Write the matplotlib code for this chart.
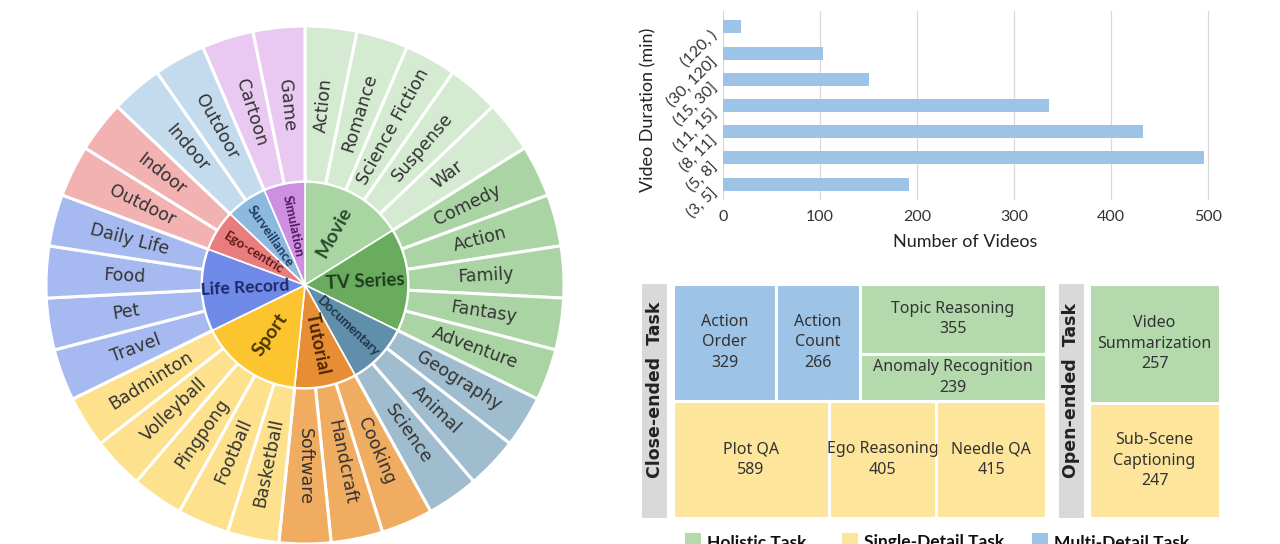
import numpy as np
import matplotlib
matplotlib.use("Agg")
import matplotlib.pyplot as plt
import matplotlib.transforms as mtransforms
from matplotlib.patches import Rectangle

# ---------------- data ----------------
categories = ['Movie', 'TV Series', 'Documentary', 'Tutorial', 'Sport',
              'Life Record', 'Ego-centric', 'Surveillance', 'Simulation']
subcategories = [
    ['Action', 'Romance', 'Science Fiction', 'Suspense', 'War'],
    ['Comedy', 'Action', 'Family', 'Fantasy', 'Adventure'],
    ['Geography', 'Animal', 'Science'],
    ['Cooking', 'Handcraft', 'Software'],
    ['Basketball', 'Football', 'Pingpong', 'Volleyball', 'Badminton'],
    ['Travel', 'Pet', 'Food', 'Daily Life'],
    ['Outdoor', 'Indoor'],
    ['Indoor', 'Outdoor'],
    ['Cartoon', 'Game'],
]

duration_bins = ['(3, 5]', '(5, 8]', '(8, 11]', '(11, 15]', '(15, 30]', '(30, 120]', '(120, )']
video_counts = [192, 496, 433, 336, 151, 103, 19]

close_top_names = ['Action\nOrder', 'Action\nCount']
close_top_values = [329, 266]
close_top_types = ['multi', 'multi']
close_stack_names = ['Topic Reasoning', 'Anomaly Recognition']
close_stack_values = [355, 239]
close_stack_types = ['holistic', 'holistic']
close_bottom_names = ['Plot QA', 'Ego Reasoning', 'Needle QA']
close_bottom_values = [589, 405, 415]
close_bottom_types = ['single', 'single', 'single']
open_names = ['Video\nSummarization', 'Sub-Scene\nCaptioning']
open_values = [257, 247]
open_types = ['holistic', 'single']
legend_labels = ['Holistic Task', 'Single-Detail Task', 'Multi-Detail Task']

# ---------------- styles ----------------
inner_colors = ['#a9d5a3', '#69ac5d', '#618eaa', '#e78d33', '#fcc52f',
                '#6f8ae9', '#e97c7c', '#8db9de', '#cf8fe0']
outer_colors = ['#d4ead1', '#aad4a4', '#a0bdcf', '#f0ad62', '#fde18d',
                '#a6b9f0', '#f3b2b2', '#c4dbee', '#e9c9f2']
inner_text_colors = ['#2d4a2d', '#1f3b1f', '#1d364a', '#4a2606', '#4a3600',
                     '#1a2866', '#5e1a1a', '#1d3a5e', '#4e1a5e']
inner_font_sizes = [14, 13.5, 9.5, 13, 14, 12.5, 9.5, 9.5, 9.5]
task_colors = {'holistic': '#b3d9ac', 'single': '#fde59b', 'multi': '#9dc3e6'}
gray_bar = '#d9d9d9'

plt.rcParams['font.family'] = ['DejaVu Sans']
fig = plt.figure(figsize=(12.8, 5.44), dpi=100)
fig.patch.set_facecolor('white')
W, H = 1280.0, 544.0

# ---------------- sunburst ----------------
cx, cy, R = 305.0, 285.0, 259.0
r_in = 103.0 / R
ax = fig.add_axes([(cx - R) / W, (H - cy - R) / H, 2 * R / W, 2 * R / H])
n_sub = [len(s) for s in subcategories]
total = sum(n_sub)
outer_cols = [outer_colors[i] for i, n in enumerate(n_sub) for _ in range(n)]
ax.pie(np.ones(total), radius=1.0, startangle=90, counterclock=False,
       colors=outer_cols, wedgeprops=dict(width=1 - r_in, edgecolor='white', linewidth=2.2))
ax.pie(n_sub, radius=r_in, startangle=90, counterclock=False,
       colors=inner_colors, wedgeprops=dict(edgecolor='white', linewidth=1.2))
ax.set_xlim(-1, 1)
ax.set_ylim(-1, 1)
ax.set_aspect('equal')
ax.axis('off')


def radial_rot(theta):
    t = theta % 360
    if 90 < t < 269.99:
        return t - 180
    return t


labels_flat = [s for grp in subcategories for s in grp]
step = 360.0 / total
r_mid = (r_in + 1) / 2
for i, lab in enumerate(labels_flat):
    cw = (i + 0.5) * step
    th = 90 - cw
    x, y = r_mid * np.cos(np.radians(th)), r_mid * np.sin(np.radians(th))
    ax.text(x, y, lab, rotation=radial_rot(th), rotation_mode='anchor',
            ha='center', va='center', fontsize=12.5, color='#333333')

start = 0
for i, (cat, n) in enumerate(zip(categories, n_sub)):
    cw = (start + n / 2) * step
    start += n
    th = 90 - cw
    rr = 60.0 / R
    x, y = rr * np.cos(np.radians(th)), rr * np.sin(np.radians(th))
    ax.text(x, y, cat, rotation=radial_rot(th), rotation_mode='anchor',
            ha='center', va='center', family=['Lato', 'DejaVu Sans'], fontweight='bold',
            fontsize=inner_font_sizes[i], color=inner_text_colors[i])

# ---------------- bar chart ----------------
px_per_unit = 0.97
x0_px = 723.0
y_top, y_bot = 11.2, 199.8
ax2 = fig.add_axes([x0_px / W, (H - y_bot) / H, 510 * px_per_unit / W, (y_bot - y_top) / H])
ypos = np.arange(len(duration_bins))
ax2.barh(ypos, video_counts, height=0.5, color='#9dc3e6', zorder=3)
ax2.set_xlim(0, 510)
ax2.set_ylim(-0.6, len(duration_bins) - 0.4)
ax2.set_xticks([0, 100, 200, 300, 400, 500])
ax2.set_yticks(ypos)
ax2.set_yticklabels(duration_bins, rotation=45, ha='right', va='center', rotation_mode='anchor')
ax2.grid(axis='x', color='#d9d9d9', linewidth=0.9, zorder=0)
for s in ax2.spines.values():
    s.set_visible(False)
ax2.tick_params(axis='both', length=0, labelsize=11.5, labelcolor='#333333')
ax2.tick_params(axis='x', pad=7)
ax2.tick_params(axis='y', pad=6)
for t in ax2.get_xticklabels() + ax2.get_yticklabels():
    t.set_family(['Lato', 'DejaVu Sans'])
offset = mtransforms.ScaledTranslation(0, -0.06, fig.dpi_scale_trans)
for t in ax2.get_yticklabels():
    t.set_transform(t.get_transform() + offset)
ax2.set_xlabel('Number of Videos', fontsize=13, family=['Lato', 'DejaVu Sans'], color='#222222')
ax2.set_ylabel('Video Duration (min)', fontsize=13, family=['Lato', 'DejaVu Sans'], color='#222222')
axw = 510 * px_per_unit
axh = y_bot - y_top
ax2.xaxis.set_label_coords((965 - x0_px) / axw, (y_bot - 242) / axh)
ax2.xaxis.label.set_va('center')
ax2.yaxis.set_label_coords((648 - x0_px) / axw, (y_bot - 110) / axh)
ax2.yaxis.label.set_va('center')

# ---------------- task treemap ----------------
ax3 = fig.add_axes([630 / W, 0, 610 / W, 274 / H])
ax3.set_xlim(630, 1240)
ax3.set_ylim(544, 270)
ax3.axis('off')

cell_font = dict(family=['Noto Sans', 'DejaVu Sans'], fontsize=11.5, color='#333333',
                 ha='center', va='center', linespacing=1.35)
edge = dict(edgecolor='white', linewidth=2.2)


def cell(x, y, w, h, color, text):
    ax3.bar(x, h, width=w, bottom=y, align='edge', color=color, **edge)
    ax3.text(x + w / 2, y + h / 2, text, **cell_font)


# panel frames (layout)
top_y0, mid_y, bot_y1 = 284.0, 401.0, 518.0
cx0, cx1 = 673.0, 1046.0
ox0, ox1 = 1089.0, 1220.0
side_text_y = 390.0

# gray side labels
ax3.bar(642, bot_y1 - top_y0, width=25, bottom=top_y0, align='edge', color=gray_bar, linewidth=0)
ax3.text(654.5, side_text_y, 'Close-ended  Task', rotation=90, ha='center', va='center',
         fontsize=12.5, fontweight='bold', color='#222222')
ax3.bar(1059, bot_y1 - top_y0, width=25, bottom=top_y0, align='edge', color=gray_bar, linewidth=0)
ax3.text(1071.5, side_text_y, 'Open-ended  Task', rotation=90, ha='center', va='center',
         fontsize=12.5, fontweight='bold', color='#222222')

# top row of close-ended
top_items = close_top_values + [sum(close_stack_values)]
tot = float(sum(top_items))
x = cx0
for k, v in enumerate(top_items):
    w = (cx1 - cx0) * v / tot
    if k < len(close_top_values):
        cell(x, top_y0, w, mid_y - top_y0, task_colors[close_top_types[k]],
             f'{close_top_names[k]}\n{v}')
    else:
        y = top_y0
        st = float(sum(close_stack_values))
        for j, sv in enumerate(close_stack_values):
            h = (mid_y - top_y0) * sv / st
            cell(x, y, w, h, task_colors[close_stack_types[j]], f'{close_stack_names[j]}\n{sv}')
            y += h
    x += w

# bottom row
tot = float(sum(close_bottom_values))
x = cx0
for k, v in enumerate(close_bottom_values):
    w = (cx1 - cx0) * v / tot
    cell(x, mid_y, w, bot_y1 - mid_y, task_colors[close_bottom_types[k]],
         f'{close_bottom_names[k]}\n{v}')
    x += w

# open-ended column
tot = float(sum(open_values))
y = top_y0
for k, v in enumerate(open_values):
    h = (bot_y1 - top_y0) * v / tot
    cell(ox0, y, ox1 - ox0, h, task_colors[open_types[k]], f'{open_names[k]}\n{v}')
    y += h

# legend
leg_sq_x = [685, 842, 1032]
for lab, key, sx in zip(legend_labels, ['holistic', 'single', 'multi'], leg_sq_x):
    ax3.add_patch(Rectangle((sx, 533), 16, 16, facecolor=task_colors[key], edgecolor='none'))
    ax3.text(sx + 22, 534.5, lab, ha='left', va='top', fontsize=12.5, fontweight='bold',
             family=['Lato', 'DejaVu Sans'], color='#111111')

fig.savefig('out.png', dpi=100, facecolor='white')
